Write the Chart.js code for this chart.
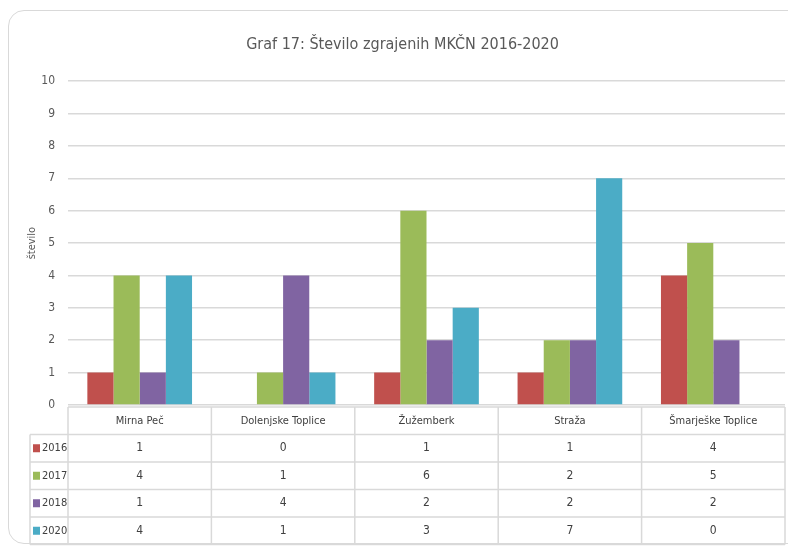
<!DOCTYPE html>
<html>
<head>
<meta charset="utf-8">
<script src="https://cdn.jsdelivr.net/npm/chart.js@4/dist/chart.umd.min.js"></script>
<style>
  html, body { margin: 0; padding: 0; background: #fff; }
  #card {
    position: absolute; left: 8px; top: 10px; width: 800px; height: 534px;
    border: 1px solid #d9d9d9; border-radius: 16px; box-sizing: border-box;
  }
  #wrap { position: absolute; left: 0; top: 0; width: 788px; height: 546px; }
</style>
</head>
<body>
<div id="card"></div>
<div id="wrap"><canvas id="chart-bars" width="788" height="546"></canvas></div>
<script>
const categories = ["Mirna Peč", "Dolenjske Toplice", "Žužemberk", "Straža", "Šmarješke Toplice"];
const seriesNames = ["2016", "2017", "2018", "2020"];
const values2016 = [1, 0, 1, 1, 4];
const values2017 = [4, 1, 6, 2, 5];
const values2018 = [1, 4, 2, 2, 2];
const values2020 = [4, 1, 3, 7, 0];
const seriesColors = ["#c0504d", "#9bbb59", "#8064a2", "#4bacc6"];
const yTicks = [0, 1, 2, 3, 4, 5, 6, 7, 8, 9, 10];

const allValues = [values2016, values2017, values2018, values2020];
const FONT = "'Liberation Sans Narrow', 'DejaVu Sans Condensed', 'Open Sans', sans-serif";

// data table under the plot, columns follow the x scale
const dataTable = {
  id: "dataTable",
  afterDraw(chart) {
    const ctx = chart.ctx;
    const area = chart.chartArea;
    const x = chart.scales.x;
    const colW = (area.right - area.left) / categories.length;
    const top = area.bottom + 2;
    const rowH = 27.5;
    const legLeft = 30;
    ctx.save();
    ctx.strokeStyle = "#d9d9d9";
    ctx.lineWidth = 1.5;
    ctx.beginPath();
    ctx.moveTo(area.left, top); ctx.lineTo(area.right, top);
    for (let r = 1; r <= seriesNames.length + 1; r++) {
      ctx.moveTo(legLeft, top + r * rowH); ctx.lineTo(area.right, top + r * rowH);
    }
    ctx.moveTo(legLeft, top + rowH); ctx.lineTo(legLeft, top + rowH * (seriesNames.length + 1));
    for (let c = 0; c <= categories.length; c++) {
      const cx = area.left + c * colW;
      ctx.moveTo(cx, top); ctx.lineTo(cx, top + rowH * (seriesNames.length + 1));
    }
    ctx.stroke();

    ctx.fillStyle = "#404040";
    ctx.textAlign = "center";
    ctx.textBaseline = "middle";
    ctx.font = "11px " + FONT;
    categories.forEach((cat, i) => {
      ctx.fillText(cat, x.getPixelForValue(i), top + rowH / 2);
    });
    seriesNames.forEach((name, s) => {
      const cy = top + rowH * (s + 1.5);
      ctx.fillStyle = seriesColors[s];
      ctx.fillRect(legLeft + 3, cy - 4, 7, 8);
      ctx.fillStyle = "#404040";
      ctx.textAlign = "left";
      ctx.font = "11px " + FONT;
      ctx.fillText(name, legLeft + 12, cy);
      ctx.textAlign = "center";
      ctx.font = "12px " + FONT;
      allValues[s].forEach((v, i) => {
        ctx.fillText(String(v), x.getPixelForValue(i), cy);
      });
    });
    ctx.restore();
  }
};

new Chart(document.getElementById("chart-bars").getContext("2d"), {
  type: "bar",
  data: {
    labels: categories,
    datasets: seriesNames.map((name, s) => ({
      label: name,
      data: allValues[s],
      backgroundColor: seriesColors[s],
      borderWidth: 0,
      categoryPercentage: 0.73,
      barPercentage: 1.0
    }))
  },
  options: {
    responsive: false,
    animation: false,
    layout: { padding: { left: 20, right: 3, top: 0, bottom: 141 } },
    plugins: {
      legend: { display: false },
      tooltip: { enabled: false },
      title: {
        display: true,
        text: "Graf 17: Število zgrajenih MKČN 2016-2020",
        color: "#595959",
        font: { size: 16, family: FONT, weight: "normal" },
        padding: { top: 35, bottom: 27 }
      }
    },
    scales: {
      x: {
        display: false
      },
      y: {
        min: 0,
        max: 10,
        afterBuildTicks: (s) => { s.ticks = yTicks.map(v => ({ value: v })); },
        afterFit: (s) => { s.width = 48; },
        grid: { color: "#d9d9d9", lineWidth: 1.5, drawTicks: false },
        border: { display: false },
        ticks: { color: "#595959", padding: 13, font: { size: 12, family: FONT } },
        title: {
          display: true,
          text: "število",
          color: "#595959",
          font: { size: 11, family: FONT },
          padding: { top: 6, bottom: 0 }
        }
      }
    }
  },
  plugins: [dataTable]
});
</script>
</body>
</html>
